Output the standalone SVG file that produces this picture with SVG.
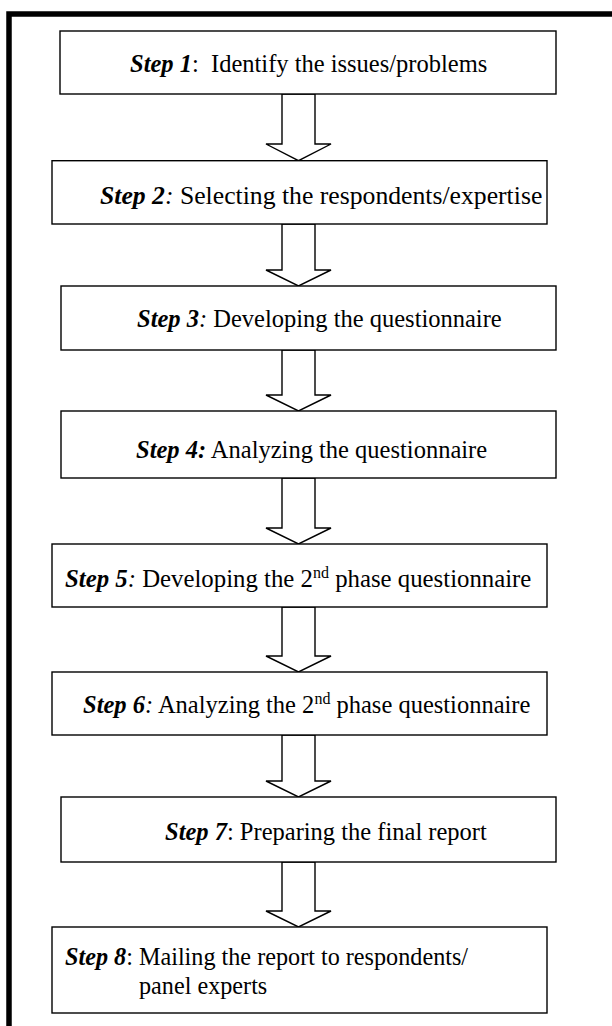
<svg xmlns="http://www.w3.org/2000/svg" width="612" height="1026" viewBox="0 0 612 1026">
<style>
.box{fill:#fff;stroke:#000;stroke-width:1.4}
.arr{fill:#fff;stroke:#000;stroke-width:1.4;stroke-linejoin:miter}
.t{font-family:"Liberation Serif","Times New Roman",serif;font-size:24.5px;fill:#000}
.b{font-weight:bold;font-style:italic}
.i{font-style:italic}
.sup{font-size:16px}
</style>
<rect width="612" height="1026" fill="#fff"/>
<path d="M9,1026 V14 H612" fill="none" stroke="#000" stroke-width="5.5"/>
<g id="connectors">
<polygon class="arr" points="282,94 315,94 315,144 331,144 298.5,160.7 266,144 282,144"/>
<polygon class="arr" points="282,224 315,224 315,270 331,270 298.5,286 266,270 282,270"/>
<polygon class="arr" points="282,350 315,350 315,395 331,395 298.5,411 266,395 282,395"/>
<polygon class="arr" points="282,478 315,478 315,528 331,528 298.5,544 266,528 282,528"/>
<polygon class="arr" points="282,607 315,607 315,656 331,656 298.5,672 266,656 282,656"/>
<polygon class="arr" points="282,735 315,735 315,781 331,781 298.5,797 266,781 282,781"/>
<polygon class="arr" points="282,862 315,862 315,911 331,911 298.5,927 266,911 282,911"/>
</g>
<g id="step1">
<rect class="box" x="60" y="31" width="496" height="63"/>
<text class="t" x="130" y="72" xml:space="preserve"><tspan class="b">Step 1</tspan>:  Identify the issues/problems</text>
</g>
<g id="step2">
<rect class="box" x="52" y="160.7" width="495" height="63.3"/>
<text class="t" x="100" y="204" style="font-size:25.7px"><tspan class="b">Step 2</tspan><tspan class="i">:</tspan> Selecting the respondents/expertise</text>
</g>
<g id="step3">
<rect class="box" x="61" y="286" width="495" height="64"/>
<text class="t" x="137" y="327"><tspan class="b">Step 3</tspan><tspan class="i">:</tspan> Developing the questionnaire</text>
</g>
<g id="step4">
<rect class="box" x="61" y="411" width="495" height="67"/>
<text class="t" x="136" y="458"><tspan class="b">Step 4:</tspan> Analyzing the questionnaire</text>
</g>
<g id="step5">
<rect class="box" x="52" y="544" width="495" height="63"/>
<text class="t" x="65" y="587" style="font-size:24.8px"><tspan class="b">Step 5</tspan><tspan class="i">:</tspan> Developing the 2<tspan class="sup" dy="-9">nd</tspan><tspan dy="9"> phase questionnaire</tspan></text>
</g>
<g id="step6">
<rect class="box" x="52" y="672" width="495" height="63"/>
<text class="t" x="83" y="713"><tspan class="b">Step 6</tspan><tspan class="i">:</tspan> Analyzing the 2<tspan class="sup" dy="-9">nd</tspan><tspan dy="9"> phase questionnaire</tspan></text>
</g>
<g id="step7">
<rect class="box" x="61" y="797" width="495" height="65"/>
<text class="t" x="165" y="840"><tspan class="b">Step 7</tspan>: Preparing the final report</text>
</g>
<g id="step8">
<rect class="box" x="52" y="927" width="495" height="86"/>
<text class="t" x="65" y="965" style="font-size:24.2px"><tspan class="b">Step 8</tspan>: Mailing the report to respondents/</text>
<text class="t" x="139" y="994" style="font-size:24.2px">panel experts</text>
</g>
</svg>
